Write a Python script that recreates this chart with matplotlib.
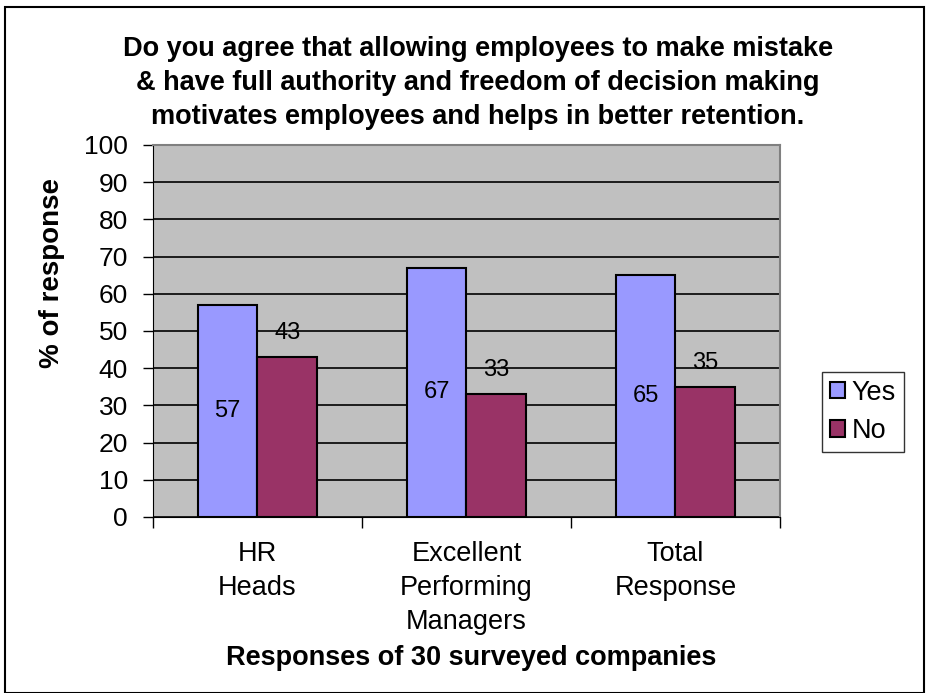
import numpy as np
import matplotlib.pyplot as plt
from matplotlib.patches import Rectangle

plt.rcParams['font.family'] = ['Liberation Sans', 'DejaVu Sans']

categories = ['HR\nHeads', 'Excellent\nPerforming\nManagers', 'Total\nResponse']
yes_vals = [57, 67, 65]
no_vals = [43, 33, 35]

yes_color = '#9999ff'
no_color = '#993366'

fig = plt.figure(figsize=(9.28, 6.93), dpi=100)
ax = fig.add_axes([153/928, 1 - 517/693, (780-153)/928, (517-145)/693])

x = np.arange(len(categories))
w = 0.287
b1 = ax.bar(x - w/2, yes_vals, w, color=yes_color, edgecolor='black', linewidth=1.5, label='Yes', zorder=3)
b2 = ax.bar(x + w/2, no_vals, w, color=no_color, edgecolor='black', linewidth=1.5, label='No', zorder=3)

# Yes values sit inside the bar, No values float above it
for rect, v in zip(b1, yes_vals):
    ax.text(rect.get_x() + rect.get_width()/2, v/2, str(v), ha='center', va='center', fontsize=17, zorder=4)
for rect, v in zip(b2, no_vals):
    ax.text(rect.get_x() + rect.get_width()/2, v + 6.5, str(v), ha='center', va='center', fontsize=17, zorder=4)

ax.set_xlim(-0.5, 2.5)
ax.set_ylim(0, 100)
ax.set_facecolor('#c0c0c0')
ax.set_yticks(range(0, 101, 10))
ax.yaxis.grid(True, color='black', linewidth=1.2, zorder=1)
ax.set_axisbelow(True)
ax.tick_params(axis='y', labelsize=19, length=7, width=1, direction='out', pad=11)
ax.set_xticks(x)
ax.set_xticklabels(categories, fontsize=19.5, linespacing=1.4)
ax.tick_params(axis='x', length=0, pad=17)
ax.set_xticks([-0.5, 0.5, 1.5, 2.5], minor=True)
ax.tick_params(axis='x', which='minor', length=8, width=1)

for side in ['top', 'right']:
    ax.spines[side].set_color('#808080')
    ax.spines[side].set_linewidth(1.5)
ax.spines['left'].set_color('black')
ax.spines['bottom'].set_color('black')

fig.text(52/928, 1 - 273/693, '% of response', rotation=90, ha='center', va='center',
         fontsize=20, fontweight='bold')
fig.text(471/928, 1 - 658/693, 'Responses of 30 surveyed companies', ha='center', va='center',
         fontsize=19.5, fontweight='bold')

fig.text(478/928, 1 - 83/693, 'Do you agree that allowing employees to make mistake\n'
         '& have full authority and freedom of decision making\n'
         'motivates employees and helps in better retention.',
         ha='center', va='center', fontsize=19.5, fontweight='bold', linespacing=1.38)

leg = ax.legend(loc='center left', bbox_to_anchor=(822/928, 1 - 412/693), bbox_transform=fig.transFigure,
                fontsize=19.5, frameon=True, fancybox=False, edgecolor='black',
                handlelength=0.55, handleheight=0.55, handletextpad=0.25, borderpad=0.3, labelspacing=0.45,
                borderaxespad=0)
leg.get_frame().set_linewidth(1)
for h in leg.legend_handles:
    h.set_linewidth(1.5)

fig.patches.append(Rectangle((5/928, 0.5/693), 919/928, 1 - 7.5/693, transform=fig.transFigure,
                             fill=False, edgecolor='black', linewidth=1.5))

fig.savefig('out.png', dpi=100)
